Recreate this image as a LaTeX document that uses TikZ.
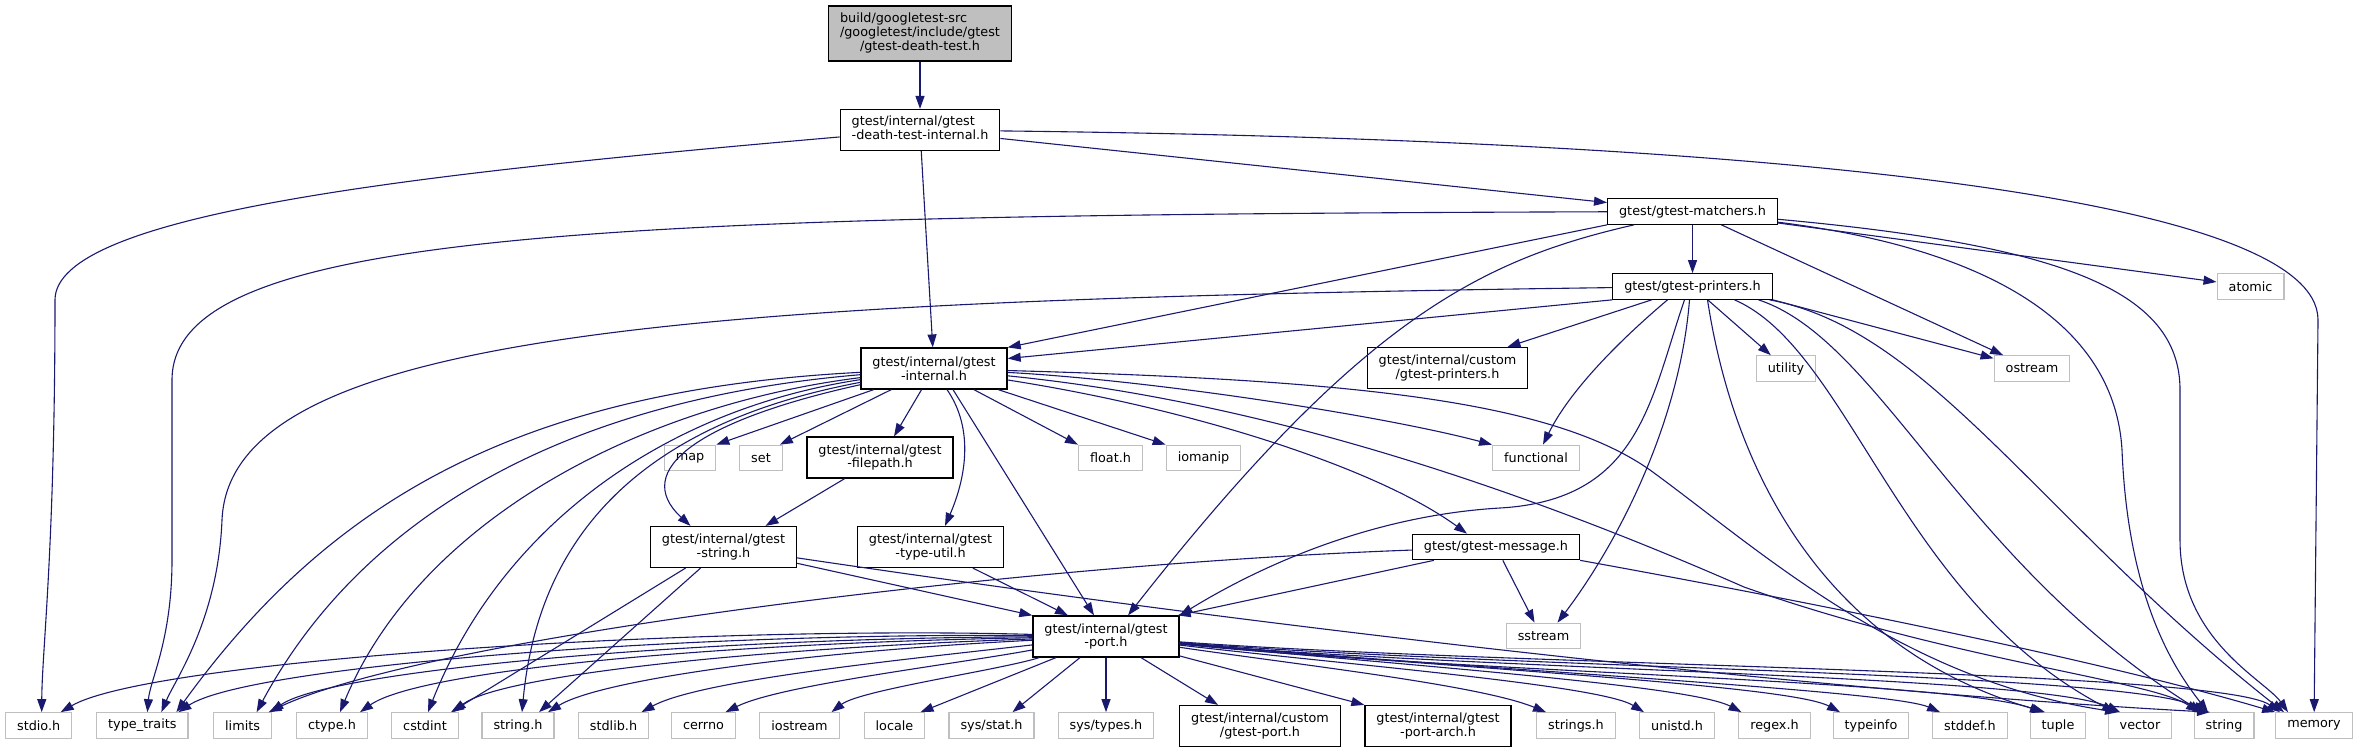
\documentclass[tikz,border=0pt]{standalone}
\usepackage{fontspec}
\setmainfont{DejaVu Sans}
\usetikzlibrary{arrows.meta,calc}
\definecolor{edgeblue}{HTML}{191970}
\definecolor{sysgray}{HTML}{BFBFBF}
\definecolor{rootgray}{HTML}{BFBFBF}
\newcommand\nodefont{\fontsize{12.8pt}{13.7pt}\selectfont}
\tikzset{
  hdr/.style={draw=black, line width=1.2pt, fill=white, inner xsep=11.5pt, inner ysep=0pt,
              font=\nodefont, minimum height=25.5pt},
  sysn/.style={hdr, draw=sysgray},
  twol/.style={align=center, minimum height=41pt},
  dep/.style={draw=edgeblue, line width=1.1pt, -{Triangle[length=13pt,width=9pt]}},
}
\begin{document}
\begin{tikzpicture}[x=1pt,y=-1pt]
\useasboundingbox (0,0) rectangle (2365,752);
% ---------- nodes ----------
\node[hdr,fill=rootgray,minimum height=55pt] (root) at (920,33.5)
  {\begin{tabular}{@{}l@{}}build/googletest-src\\/googletest/include/gtest\\\multicolumn{1}{@{}c@{}}{/gtest-death-test.h}\end{tabular}};
\node[hdr,minimum height=41pt] (dti) at (920,130)
  {\begin{tabular}{@{}l@{}}gtest/internal/gtest\\-death-test-internal.h\end{tabular}};
\node[hdr] (match) at (1692.5,211.5) {gtest/gtest-matchers.h};
\node[hdr] (print) at (1692.5,286.5) {gtest/gtest-printers.h};
\node[sysn] (atomic) at (2250.5,286.5) {atomic};
\node[hdr,twol] (gint) at (934,368.5) {gtest/internal/gtest\\-internal.h};
\node[hdr,twol] (cprint) at (1447.5,368) {gtest/internal/custom\\/gtest-printers.h};
\node[sysn] (utility) at (1786,368.5) {utility};
\node[sysn] (ostream) at (2032,368.5) {ostream};
\node[sysn] (map) at (690,458) {map};
\node[sysn] (set) at (761,458) {set};
\node[hdr,twol] (filepath) at (880,457.5) {gtest/internal/gtest\\-filepath.h};
\node[sysn] (float) at (1110.5,458) {float.h};
\node[sysn] (iomanip) at (1203.5,458) {iomanip};
\node[sysn] (functional) at (1536,458) {functional};
\node[hdr,twol] (gstring) at (723.5,547) {gtest/internal/gtest\\-string.h};
\node[hdr,twol] (typeutil) at (930.5,547) {gtest/internal/gtest\\-type-util.h};
\node[hdr] (message) at (1496,547) {gtest/gtest-message.h};
\node[hdr,twol] (port) at (1106,636.5) {gtest/internal/gtest\\-port.h};
\node[sysn] (sstream) at (1543.5,636) {sstream};
\node[sysn] (stdio) at (38.7,725.5) {stdio.h};
\node[sysn] (tt) at (142.4,725.5) {type\_traits};
\node[sysn] (limits) at (242.6,725.5) {limits};
\node[sysn] (ctype) at (332,725.5) {ctype.h};
\node[sysn] (cstdint) at (425,725.5) {cstdint};
\node[sysn] (stringh) at (518,725.5) {string.h};
\node[sysn] (stdlib) at (613.5,725.5) {stdlib.h};
\node[sysn] (cerrno) at (703.5,725.5) {cerrno};
\node[sysn] (iostream) at (799.5,725.5) {iostream};
\node[sysn] (locale) at (894.5,725.5) {locale};
\node[sysn] (sysstat) at (991.5,725.5) {sys/stat.h};
\node[sysn] (systypes) at (1106,725.5) {sys/types.h};
\node[hdr,twol] (cport) at (1260,726) {gtest/internal/custom\\/gtest-port.h};
\node[hdr,twol] (portarch) at (1438,726) {gtest/internal/gtest\\-port-arch.h};
\node[sysn] (strings) at (1576,725.5) {strings.h};
\node[sysn] (unistd) at (1677,725.5) {unistd.h};
\node[sysn] (regex) at (1774.5,725.5) {regex.h};
\node[sysn] (typeinfo) at (1871,725.5) {typeinfo};
\node[sysn] (stddef) at (1970,725.5) {stddef.h};
\node[sysn] (tuple) at (2058,725.5) {tuple};
\node[sysn] (vector) at (2140,725.5) {vector};
\node[sysn] (string) at (2224,725.5) {string};
\node[sysn] (memory) at (2314,725.5) {memory};
% ---------- edges ----------
% root
\draw[dep] (root) -- (dti);
% death-test-internal
\draw[dep] (dti) .. controls (400,175) and (55,215) .. (55,300) .. controls (55,550) and (42,650) .. ([xshift=3pt]stdio.north);
\draw[dep] (dti) -- (gint);
\draw[dep] (dti) -- (match);
\draw[dep] (dti) .. controls (1800,140) and (2318,200) .. (2318,320) -- (memory);
% matchers
\draw[dep] (match) .. controls (600,215) and (172,230) .. (172,380) -- (172,560) .. controls (172,640) and (150,680) .. ([xshift=5pt]tt.north);
\draw[dep] (match.south west) -- (gint.north east);
\draw[dep] (match) .. controls (1480,260) and (1360,320) .. ([xshift=22pt]port.north);
\draw[dep] (match) -- (print);
\draw[dep] (match) -- (ostream);
\draw[dep] (match) -- (atomic);
\draw[dep] (match) .. controls (2000,250) and (2115,330) .. (2122,450) .. controls (2128,600) and (2175,670) .. ([xshift=-16pt]string.north);
\draw[dep] (match) .. controls (2060,245) and (2180,290) .. (2180,390) -- (2180,540) .. controls (2180,640) and (2265,680) .. ([xshift=-26pt]memory.north);
% printers
\draw[dep] (print) .. controls (700,300) and (230,330) .. (222,520) .. controls (218,620) and (175,680) .. ([xshift=19pt]tt.north);
\draw[dep] (print.south west) -- ($(gint.east)+(0,-10)$);
\draw[dep] (print) -- ([xshift=60pt]cprint.north);
\draw[dep] ([xshift=-25pt]print.south) .. controls (1620,340) and (1570,390) .. ([xshift=7pt]functional.north);
\draw[dep] ([xshift=-8pt]print.south) .. controls (1650,400) and (1640,500) .. (1500,508) .. controls (1380,515) and (1270,560) .. (port.north east);
\draw[dep] ([xshift=-3pt]print.south) .. controls (1680,420) and (1620,540) .. ([xshift=14pt]sstream.north);
\draw[dep] (print) -- (utility);
\draw[dep] (print.south east) -- (ostream);
\draw[dep] ([xshift=15pt]print.south) .. controls (1735,480) and (1830,650) .. ([xshift=-13pt]tuple.north);
\draw[dep] ([xshift=42pt]print.south) .. controls (1850,350) and (1900,600) .. ([xshift=-25pt]vector.north);
\draw[dep] ([xshift=66pt]print.south) .. controls (1880,340) and (1960,560) .. ([xshift=-22pt]string.north);
\draw[dep] ([xshift=77pt]print.south) .. controls (1930,330) and (2040,520) .. ([xshift=-30pt]memory.north);
% gtest-internal
\draw[dep] (gint) .. controls (520,390) and (330,500) .. ([xshift=34pt]tt.north);
\draw[dep] (gint) .. controls (560,400) and (360,520) .. ([xshift=14pt]limits.north);
\draw[dep] (gint) .. controls (640,405) and (420,520) .. ([xshift=8pt]ctype.north);
\draw[dep] (gint) .. controls (660,410) and (500,530) .. ([xshift=3pt]cstdint.north);
\draw[dep] (gint) .. controls (660,420) and (540,520) .. ([xshift=4pt]stringh.north);
\draw[dep] (gint) .. controls (700,420) and (630,470) .. ([xshift=-33pt]gstring.north);
\draw[dep] (gint) -- (map.north east);
\draw[dep] (gint) -- ([xshift=-3pt]set.north east);
\draw[dep] (gint) -- ([xshift=14pt]filepath.north);
\draw[dep] ([xshift=13pt]gint.south) .. controls (975,430) and (965,480) .. ([xshift=14.5pt]typeutil.north);
\draw[dep] ([xshift=19pt]gint.south) -- ([xshift=-12pt]port.north);
\draw[dep] (gint) -- (float.north west);
\draw[dep] (gint) -- (iomanip.north west);
\draw[dep] (gint) .. controls (1150,380) and (1380,415) .. (functional.north west);
\draw[dep] (gint) .. controls (1200,410) and (1380,470) .. ([xshift=-29pt]message.north);
\draw[dep] (gint) .. controls (1350,380) and (1550,400) .. (1650,470) .. controls (1760,550) and (1900,680) .. ([xshift=-22pt]vector.north);
\draw[dep] (gint) .. controls (1250,400) and (1500,480) .. (1744,587) .. controls (1950,660) and (2150,680) .. ([xshift=-25pt]string.north);
% gtest-string
\draw[dep] ([xshift=-38pt]gstring.south) -- ([xshift=26pt]cstdint.north);
\draw[dep] ([xshift=-23pt]gstring.south) -- ([xshift=21pt]stringh.north);
\draw[dep] (gstring) -- (port.north west);
\draw[dep] (gstring) .. controls (1250,625) and (1800,690) .. ([xshift=-14pt]string.north);
% filepath, type-util
\draw[dep] (filepath) -- ([xshift=42pt]gstring.north);
\draw[dep] (typeutil) -- ([xshift=-38pt]port.north);
% message
\draw[dep] (message) .. controls (1000,565) and (420,640) .. ([xshift=26pt]limits.north);
\draw[dep] (message) -- ([xshift=-2pt]port.north east);
\draw[dep] (message) -- ([xshift=-9pt]sstream.north);
\draw[dep] (message.south east) .. controls (1800,600) and (2100,660) .. (memory.north west);
% port
\draw[dep] (port) .. controls (700,625) and (150,660) .. ([xshift=22pt]stdio.north);
\draw[dep] (port) .. controls (700,632) and (250,665) .. ([xshift=36pt]tt.north);
\draw[dep] (port) .. controls (700,638) and (330,670) .. ([xshift=28pt]limits.north);
\draw[dep] (port) .. controls (720,643) and (420,670) .. ([xshift=28pt]ctype.north);
\draw[dep] (port) .. controls (760,648) and (500,675) .. ([xshift=28pt]cstdint.north);
\draw[dep] (port) .. controls (800,652) and (600,680) .. ([xshift=30pt]stringh.north);
\draw[dep] (port) .. controls (900,660) and (700,680) .. ([xshift=28pt]stdlib.north);
\draw[dep] (port) .. controls (950,665) and (780,685) .. ([xshift=22pt]cerrno.north);
\draw[dep] (port) .. controls (1000,670) and (860,690) .. ([xshift=32pt]iostream.north);
\draw[dep] ([xshift=-50pt]port.south) -- ([xshift=26pt]locale.north);
\draw[dep] ([xshift=-26pt]port.south) -- ([xshift=21pt]sysstat.north);
\draw[dep] (port) -- (systypes);
\draw[dep] ([xshift=35pt]port.south) -- ([xshift=-42pt]cport.north);
\draw[dep] (port) -- (portarch.north west);
\draw[dep] (port) .. controls (1300,665) and (1480,685) .. ([xshift=-30pt]strings.north);
\draw[dep] (port) .. controls (1350,665) and (1600,685) .. ([xshift=-33pt]unistd.north);
\draw[dep] (port) .. controls (1400,665) and (1690,685) .. ([xshift=-33pt]regex.north);
\draw[dep] (port) .. controls (1450,668) and (1790,685) .. ([xshift=-31pt]typeinfo.north);
\draw[dep] (port) .. controls (1480,670) and (1890,690) .. ([xshift=-30pt]stddef.north);
\draw[dep] (port) .. controls (1450,672) and (1950,680) .. ([xshift=-15pt]tuple.north);
\draw[dep] (port) .. controls (1470,670) and (2040,675) .. ([xshift=-20pt]vector.north);
\draw[dep] (port) .. controls (1490,668) and (2130,672) .. ([xshift=-18pt]string.north);
\draw[dep] (port) .. controls (1510,666) and (2220,670) .. ([xshift=-34pt]memory.north);
\end{tikzpicture}
\end{document}
